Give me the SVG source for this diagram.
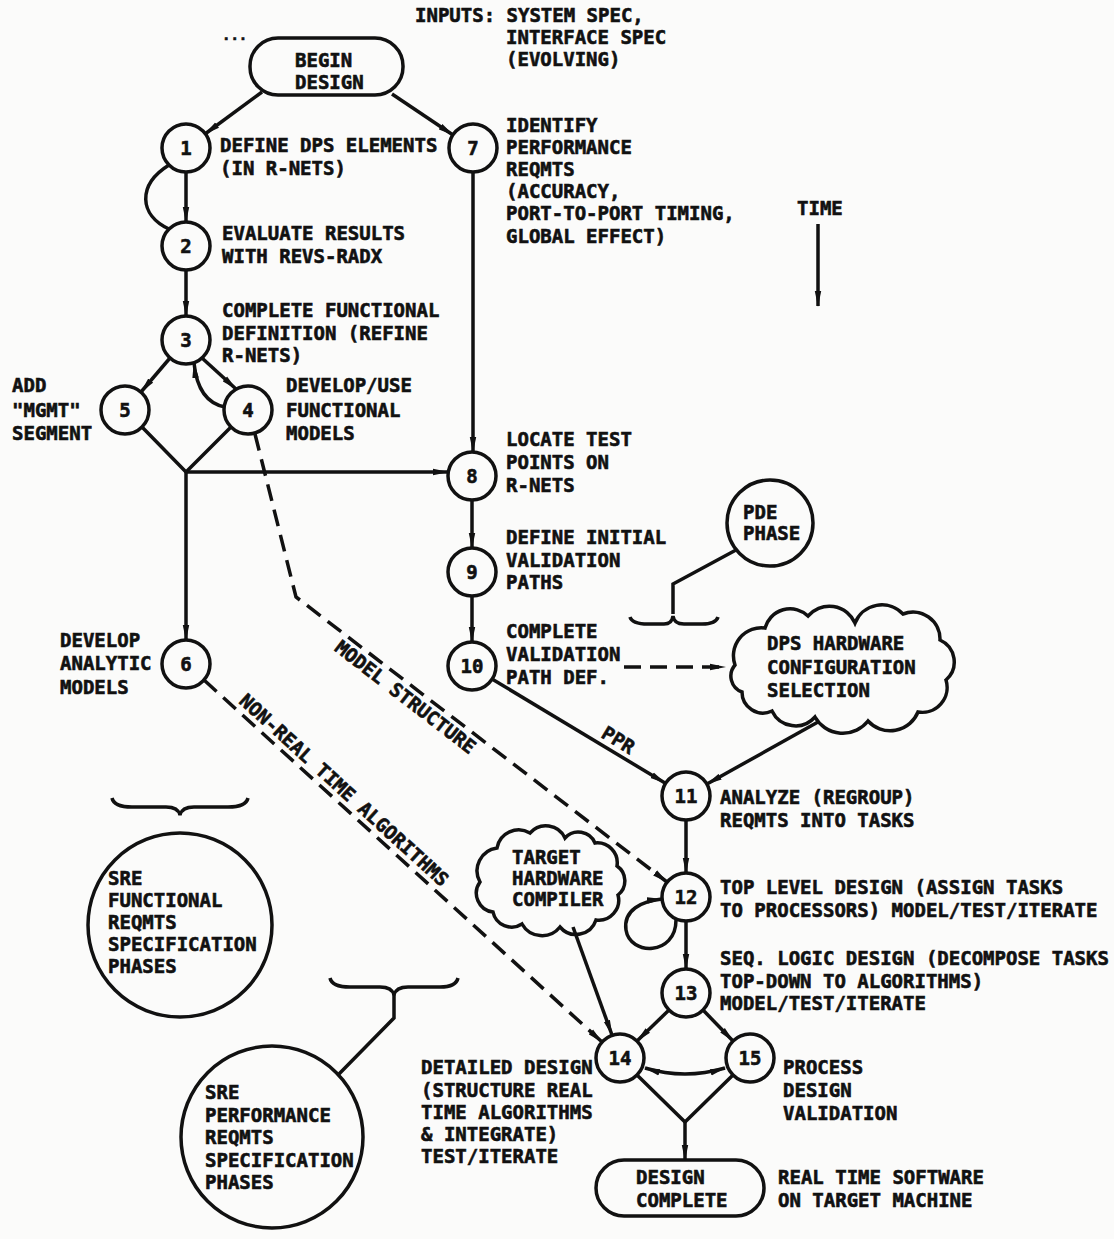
<svg xmlns="http://www.w3.org/2000/svg" width="1114" height="1239" viewBox="0 0 1114 1239">
<style>
.t{font-family:"DejaVu Sans Mono","Liberation Mono",monospace;font-weight:bold;font-size:19px;fill:#111;stroke:#111;stroke-width:0.6px}
.num{text-anchor:middle}
.n{fill:none;stroke:#111;stroke-width:3.5}
.c{fill:none;stroke:#111;stroke-width:3.5}
.d{stroke-dasharray:17 9}
</style>
<defs>
<marker id="ah" viewBox="0 0 16 8" refX="15" refY="4" markerWidth="16" markerHeight="8" markerUnits="userSpaceOnUse" orient="auto-start-reverse">
<path d="M0,0.8 L16,4 L0,7.2 z" fill="#111"/>
</marker>
</defs>
<rect width="1114" height="1239" fill="#fbfbfa"/>

<g id="inputs">
<text class="t" x="415" y="22">INPUTS: SYSTEM SPEC,</text>
<text class="t" x="506" y="44">INTERFACE SPEC</text>
<text class="t" x="506" y="66">(EVOLVING)</text>
<text class="t" x="222" y="40" style="font-size:14px">...</text>
</g>

<g id="time">
<text class="t" x="797" y="215">TIME</text>
<line class="c" x1="818" y1="224" x2="818" y2="306" marker-end="url(#ah)"/>
</g>

<g id="begin">
<rect class="n" x="250" y="38" width="153" height="57" rx="28"/>
<text class="t" x="295" y="67">BEGIN</text>
<text class="t" x="295" y="89">DESIGN</text>
</g>

<g id="n1">
<circle class="n" cx="186" cy="148" r="24"/>
<text class="t num" x="186" y="155">1</text>
<text class="t" x="220" y="152">DEFINE DPS ELEMENTS</text>
<text class="t" x="220" y="175">(IN R-NETS)</text>
</g>
<g id="n2">
<circle class="n" cx="186" cy="246" r="24"/>
<text class="t num" x="186" y="253">2</text>
<text class="t" x="222" y="240">EVALUATE RESULTS</text>
<text class="t" x="222" y="263">WITH REVS-RADX</text>
</g>
<g id="n3">
<circle class="n" cx="186" cy="340" r="24"/>
<text class="t num" x="186" y="347">3</text>
<text class="t" x="222" y="317">COMPLETE FUNCTIONAL</text>
<text class="t" x="222" y="340">DEFINITION (REFINE</text>
<text class="t" x="222" y="362">R-NETS)</text>
</g>
<g id="n5">
<circle class="n" cx="125" cy="410" r="24"/>
<text class="t num" x="125" y="417">5</text>
<text class="t" x="12" y="392">ADD</text>
<text class="t" x="12" y="417">"MGMT"</text>
<text class="t" x="12" y="440">SEGMENT</text>
</g>
<g id="n4">
<circle class="n" cx="248" cy="410" r="24"/>
<text class="t num" x="248" y="417">4</text>
<text class="t" x="286" y="392">DEVELOP/USE</text>
<text class="t" x="286" y="417">FUNCTIONAL</text>
<text class="t" x="286" y="440">MODELS</text>
</g>
<g id="n6">
<circle class="n" cx="186" cy="664" r="24"/>
<text class="t num" x="186" y="671">6</text>
<text class="t" x="60" y="647">DEVELOP</text>
<text class="t" x="60" y="670">ANALYTIC</text>
<text class="t" x="60" y="694">MODELS</text>
</g>
<g id="n7">
<circle class="n" cx="473" cy="148" r="24"/>
<text class="t num" x="473" y="155">7</text>
<text class="t" x="506" y="132">IDENTIFY</text>
<text class="t" x="506" y="154">PERFORMANCE</text>
<text class="t" x="506" y="176">REQMTS</text>
<text class="t" x="506" y="198">(ACCURACY,</text>
<text class="t" x="506" y="220">PORT-TO-PORT TIMING,</text>
<text class="t" x="506" y="243">GLOBAL EFFECT)</text>
</g>
<g id="n8">
<circle class="n" cx="472" cy="476" r="24"/>
<text class="t num" x="472" y="483">8</text>
<text class="t" x="506" y="446">LOCATE TEST</text>
<text class="t" x="506" y="469">POINTS ON</text>
<text class="t" x="506" y="492">R-NETS</text>
</g>
<g id="n9">
<circle class="n" cx="472" cy="572" r="24"/>
<text class="t num" x="472" y="579">9</text>
<text class="t" x="506" y="544">DEFINE INITIAL</text>
<text class="t" x="506" y="567">VALIDATION</text>
<text class="t" x="506" y="589">PATHS</text>
</g>
<g id="n10">
<circle class="n" cx="472" cy="666" r="24"/>
<text class="t num" x="472" y="673">10</text>
<text class="t" x="506" y="638">COMPLETE</text>
<text class="t" x="506" y="661">VALIDATION</text>
<text class="t" x="506" y="684">PATH DEF.</text>
</g>
<g id="pde">
<circle class="n" cx="770" cy="523" r="43"/>
<text class="t" x="743" y="519">PDE</text>
<text class="t" x="743" y="540">PHASE</text>
<path class="c" d="M630,617 Q632,624 648,624 L664,624 Q672,624 673,616 Q674,624 684,624 L702,624 Q716,624 718,617"/>
<path class="c" d="M673,614 V584 L736,550"/>
</g>
<g id="dps">
<path class="n" d="M735,665 A28,28 0 0 1 765,628 A26,26 0 0 1 808,616 A28,28 0 0 1 855,623 A29,29 0 0 1 903,614 A27,27 0 0 1 940,640 A24,24 0 0 1 946,680 A25,25 0 0 1 918,712 A30,30 0 0 1 868,721 A32,32 0 0 1 815,717 A26,26 0 0 1 772,711 A21,21 0 0 1 742,692 A17,17 0 0 1 735,665 z"/>
<text class="t" x="767" y="650">DPS HARDWARE</text>
<text class="t" x="767" y="674">CONFIGURATION</text>
<text class="t" x="767" y="697">SELECTION</text>
</g>
<g id="n11">
<circle class="n" cx="686" cy="796" r="24"/>
<text class="t num" x="686" y="803">11</text>
<text class="t" x="720" y="804">ANALYZE (REGROUP)</text>
<text class="t" x="720" y="827">REQMTS INTO TASKS</text>
</g>
<g id="target">
<path class="n" d="M480,882 A23,23 0 0 1 497,848 A22,22 0 0 1 530,833 A21,21 0 0 1 565,838 A18,18 0 0 1 595,843 A20,20 0 0 1 617,866 A18,18 0 0 1 618,895 A20,20 0 0 1 596,920 A21,21 0 0 1 560,927 A23,23 0 0 1 522,924 A19,19 0 0 1 493,912 A19,19 0 0 1 480,882 z"/>
<text class="t" x="512" y="864">TARGET</text>
<text class="t" x="512" y="885">HARDWARE</text>
<text class="t" x="512" y="906">COMPILER</text>
</g>
<g id="n12">
<circle class="n" cx="686" cy="897" r="24"/>
<text class="t num" x="686" y="904">12</text>
<text class="t" x="720" y="894">TOP LEVEL DESIGN (ASSIGN TASKS</text>
<text class="t" x="720" y="917">TO PROCESSORS) MODEL/TEST/ITERATE</text>
</g>
<g id="n13">
<circle class="n" cx="686" cy="993" r="24"/>
<text class="t num" x="686" y="1000">13</text>
<text class="t" x="720" y="965">SEQ. LOGIC DESIGN (DECOMPOSE TASKS</text>
<text class="t" x="720" y="988">TOP-DOWN TO ALGORITHMS)</text>
<text class="t" x="720" y="1010">MODEL/TEST/ITERATE</text>
</g>
<g id="n14">
<circle class="n" cx="620" cy="1058" r="24"/>
<text class="t num" x="620" y="1065">14</text>
<text class="t" x="421" y="1074">DETAILED DESIGN</text>
<text class="t" x="421" y="1097">(STRUCTURE REAL</text>
<text class="t" x="421" y="1119">TIME ALGORITHMS</text>
<text class="t" x="421" y="1141">&amp; INTEGRATE)</text>
<text class="t" x="421" y="1163">TEST/ITERATE</text>
</g>
<g id="n15">
<circle class="n" cx="750" cy="1058" r="24"/>
<text class="t num" x="750" y="1065">15</text>
<text class="t" x="783" y="1074">PROCESS</text>
<text class="t" x="783" y="1097">DESIGN</text>
<text class="t" x="783" y="1120">VALIDATION</text>
</g>
<g id="complete">
<rect class="n" x="596" y="1160" width="168" height="56" rx="28"/>
<text class="t" x="636" y="1184">DESIGN</text>
<text class="t" x="636" y="1207">COMPLETE</text>
<text class="t" x="778" y="1184">REAL TIME SOFTWARE</text>
<text class="t" x="778" y="1207">ON TARGET MACHINE</text>
</g>
<g id="sre-functional">
<path class="c" d="M112,798 Q114,807 132,807 L166,807 Q178,807 180,815 Q182,807 194,807 L228,807 Q246,807 248,798"/>
<circle class="n" cx="180" cy="925" r="92"/>
<text class="t" x="108" y="885">SRE</text>
<text class="t" x="108" y="907">FUNCTIONAL</text>
<text class="t" x="108" y="929">REQMTS</text>
<text class="t" x="108" y="951">SPECIFICATION</text>
<text class="t" x="108" y="973">PHASES</text>
</g>
<g id="sre-performance">
<path class="c" d="M330,978 Q332,987 350,987 L380,987 Q392,987 394,995 Q396,987 408,987 L440,987 Q456,987 458,978"/>
<path class="c" d="M394,995 V1018 L338,1075"/>
<circle class="n" cx="272" cy="1137" r="91"/>
<text class="t" x="205" y="1099">SRE</text>
<text class="t" x="205" y="1122">PERFORMANCE</text>
<text class="t" x="205" y="1144">REQMTS</text>
<text class="t" x="205" y="1167">SPECIFICATION</text>
<text class="t" x="205" y="1189">PHASES</text>
</g>

<g id="connectors">
<line class="c" x1="262" y1="92" x2="205" y2="134" marker-end="url(#ah)"/>
<line class="c" x1="392" y1="94" x2="453" y2="135" marker-end="url(#ah)"/>
<line class="c" x1="186" y1="172" x2="186" y2="222" marker-end="url(#ah)"/>
<path class="c" d="M169,165 C137,185 139,215 169,229"/>
<line class="c" x1="186" y1="270" x2="186" y2="316" marker-end="url(#ah)"/>
<line class="c" x1="170" y1="358" x2="141" y2="392" marker-end="url(#ah)"/>
<line class="c" x1="202" y1="358" x2="236" y2="389" marker-end="url(#ah)"/>
<path class="c" d="M225,407 Q198,402 194,363" marker-end="url(#ah)"/>
<path class="c" d="M142,427 L186,472 L231,427"/>
<line class="c" x1="186" y1="472" x2="448" y2="472" marker-end="url(#ah)"/>
<line class="c" x1="186" y1="472" x2="186" y2="640" marker-end="url(#ah)"/>
<line class="c" x1="473" y1="172" x2="473" y2="452" marker-end="url(#ah)"/>
<line class="c" x1="472" y1="500" x2="472" y2="548" marker-end="url(#ah)"/>
<line class="c" x1="472" y1="596" x2="472" y2="642" marker-end="url(#ah)"/>
<line class="c d" x1="624" y1="667" x2="725" y2="667" marker-end="url(#ah)"/>
<line class="c" x1="492" y1="679" x2="665" y2="783" marker-end="url(#ah)"/>
<text class="t" transform="translate(597,742) rotate(31.3)" x="0" y="-6">PPR</text>
<line class="c" x1="818" y1="722" x2="707" y2="784" marker-end="url(#ah)"/>
<line class="c" x1="686" y1="820" x2="686" y2="873" marker-end="url(#ah)"/>
<line class="c" x1="686" y1="921" x2="686" y2="969" marker-end="url(#ah)"/>
<path class="c" d="M676,920 C676,956 630,956 626,930 C623,910 642,901 662,899" marker-end="url(#ah)"/>
<path class="c d" d="M255,434 L296,597 L667,882" marker-end="url(#ah)"/>
<text class="t" transform="translate(345,635) rotate(37.6)" x="0" y="19">MODEL STRUCTURE</text>
<line class="c d" x1="204" y1="680" x2="602" y2="1042" marker-end="url(#ah)"/>
<text class="t" transform="translate(234,707) rotate(42.3)" x="0" y="-6">NON-REAL TIME ALGORITHMS</text>
<line class="c" x1="573" y1="927" x2="612" y2="1035" marker-end="url(#ah)"/>
<line class="c" x1="669" y1="1010" x2="637" y2="1041" marker-end="url(#ah)"/>
<line class="c" x1="703" y1="1010" x2="733" y2="1041" marker-end="url(#ah)"/>
<path class="c" d="M645,1068 Q685,1080 725,1068" marker-start="url(#ah)" marker-end="url(#ah)"/>
<path class="c" d="M637,1075 L685,1122 L733,1075"/>
<line class="c" x1="685" y1="1122" x2="685" y2="1160" marker-end="url(#ah)"/>
</g>
</svg>
